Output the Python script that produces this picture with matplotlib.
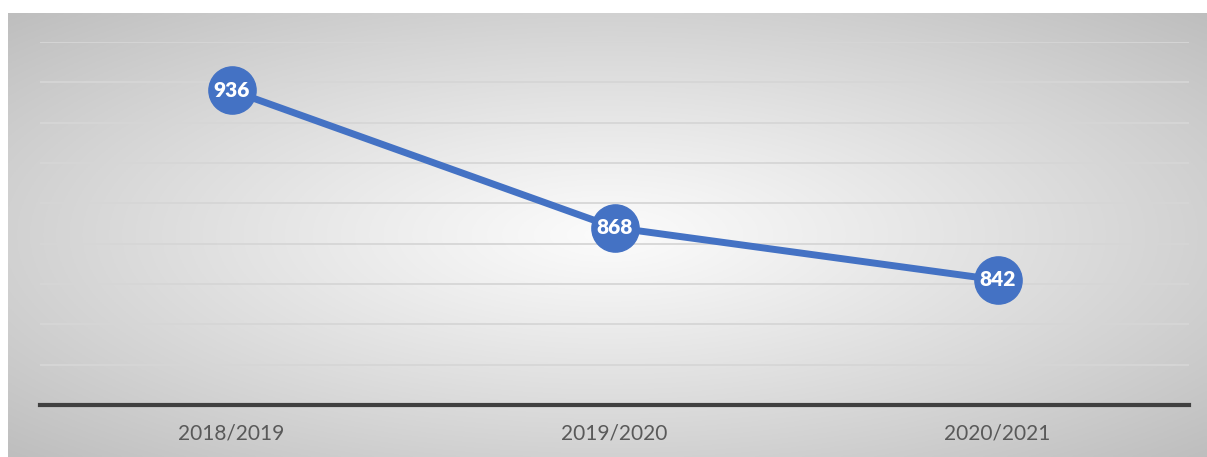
import numpy as np
import matplotlib.pyplot as plt

# data
years = ["2018/2019", "2019/2020", "2020/2021"]
counts = [936, 868, 842]
y_min, y_max, y_step = 780, 960, 20

W, H = 1207, 457
fig = plt.figure(figsize=(W / 100, H / 100), dpi=100)
fig.patch.set_facecolor("white")

# radial gradient background panel
bg = fig.add_axes([8 / W, 0, (W - 8) / W, (H - 13) / H])
gx, gy = np.meshgrid(np.linspace(-1, 1, 600), np.linspace(-1, 1, 240))
r = np.clip(np.sqrt(gx ** 2 + gy ** 2) / np.sqrt(2), 0, 1)
shade = 0.985 - (0.985 - 0.745) * r ** 1.1
bg.imshow(np.dstack([shade] * 3), aspect="auto", extent=[0, 1, 0, 1])
bg.axis("off")

ax = fig.add_axes([40 / W, 52 / H, 1149 / W, 363 / H])
ax.set_facecolor("none")
x = np.arange(len(years))
ax.set_xlim(-0.5, len(years) - 0.5)
ax.set_ylim(y_min, y_max)

for v in np.arange(y_min + y_step, y_max + 1, y_step):
    ax.axhline(v, color="#d6d6d6", lw=1.3, zorder=1)

ax.plot(x, counts, color="#4472C4", lw=5, marker="o", ms=34,
        solid_capstyle="round", zorder=3)
for xi, v in zip(x, counts):
    ax.text(xi, v, str(v), ha="center", va="center", color="white",
            fontsize=15, fontweight="heavy", family="Lato", zorder=4)

for s in ["top", "right", "left"]:
    ax.spines[s].set_visible(False)
ax.spines["bottom"].set_color("#404040")
ax.spines["bottom"].set_linewidth(3)
ax.set_yticks([])
ax.set_xticks(x)
ax.set_xticklabels(years, family="Lato", fontsize=15, color="#595959")
ax.tick_params(axis="x", length=0, pad=13)

fig.savefig("out.png", dpi=100)
